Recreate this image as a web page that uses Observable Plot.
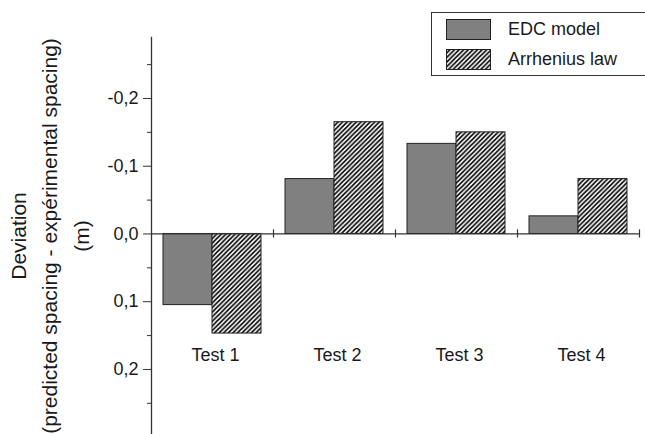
<!DOCTYPE html>
<html>
<head>
<meta charset="utf-8">
<script src="https://cdn.jsdelivr.net/npm/d3@7"></script>
<script src="https://cdn.jsdelivr.net/npm/@observablehq/plot@0.6"></script>
<style>
  body { margin: 0; background: #fff; }
  #wrap { position: relative; width: 645px; height: 434px; overflow: hidden; font-family: "Liberation Sans", Arial, sans-serif; }
  #legend { position: absolute; left: 431px; top: 12px; width: 230px; height: 64px; border: 1px solid #333; background: #fff; box-sizing: border-box; }
  .lg-item { position: absolute; left: 14px; display: flex; align-items: center; font-size: 18px; color: #1a1a1a; }
  .lg-item svg { margin-right: 17px; }
</style>
</head>
<body>
<div id="wrap"></div>
<script>
const tests = ["Test 1", "Test 2", "Test 3", "Test 4"];
const edcModel = [0.105, -0.081, -0.133, -0.026];
const arrheniusLaw = [0.147, -0.165, -0.150, -0.081];
const seriesNames = ["EDC model", "Arrhenius law"];
const majorTicks = [-0.2, -0.1, 0, 0.1, 0.2];
const minorTicks = [-0.25, -0.15, -0.05, 0.05, 0.15, 0.25];
const yLabel = "Deviation\n(predicted spacing - expérimental spacing)\n(m)";

const data = tests.map((t, i) => ({test: t, edc: edcModel[i], arr: arrheniusLaw[i]}));
const fmt = d => d.toFixed(1).replace(".", ",");
const axisColor = "#333";
const textColor = "#1a1a1a";

const chart = Plot.plot({
  width: 645,
  height: 434,
  marginLeft: 151,
  marginRight: 6,
  marginTop: 37,
  marginBottom: 0,
  style: {fontFamily: "'Liberation Sans', Arial, sans-serif", color: textColor, background: "#fff", overflow: "visible"},
  x: {type: "band", domain: tests, padding: 0, axis: null},
  y: {domain: [-0.29, 0.296], reverse: true, axis: null},
  marks: [
    Plot.barY(data, {x: "test", y: "edc", fill: "#808080", stroke: "#222", strokeWidth: 1, insetLeft: 12, insetRight: 61}),
    Plot.barY(data, {x: "test", y: "arr", fill: "url(#hatch)", stroke: "#222", strokeWidth: 1, insetLeft: 61, insetRight: 12}),
    Plot.ruleY([0], {stroke: axisColor, strokeWidth: 1.2}),
    Plot.ruleX(tests, {x: d => d, dx: 61, y1: -0.006, y2: 0.006, stroke: axisColor, strokeWidth: 1.2}),
    Plot.frame({anchor: "left", stroke: axisColor, strokeWidth: 1.3}),
    Plot.axisY(majorTicks, {tickSize: 8, tickPadding: 5, tickFormat: fmt, label: null, fontSize: 18, stroke: axisColor, fill: textColor}),
    Plot.axisY(minorTicks, {tickSize: 4, text: null, label: null, stroke: axisColor}),
    Plot.text(tests, {x: d => d, y: 0.1795, dx: 3, fontSize: 18, fill: textColor}),
    Plot.text([yLabel], {frameAnchor: "left", dx: -104, rotate: -90, fontSize: 21, lineHeight: 1.48, fill: textColor, textAnchor: "middle"})
  ]
});

// hatch pattern definition
const hatchPath = `<rect width="4.6" height="4.6" fill="#fff"/><path d="M-1.15,1.15 L1.15,-1.15 M0,4.6 L4.6,0 M3.45,5.75 L5.75,3.45" stroke="#000" stroke-width="1.6"/>`;
const ns = "http://www.w3.org/2000/svg";
const defs = document.createElementNS(ns, "defs");
defs.innerHTML = `<pattern id="hatch" patternUnits="userSpaceOnUse" width="4.6" height="4.6">${hatchPath}</pattern>`;
chart.insertBefore(defs, chart.firstChild);

const wrap = document.getElementById("wrap");
wrap.appendChild(chart);

// legend
const legend = document.createElement("div");
legend.id = "legend";
const swatches = [
  `<svg width="45" height="21"><rect x="0.5" y="0.5" width="44" height="20" fill="#808080" stroke="#222"/></svg>`,
  `<svg width="45" height="21"><defs><pattern id="hatchL" patternUnits="userSpaceOnUse" width="4.6" height="4.6">${hatchPath}</pattern></defs><rect x="0.5" y="0.5" width="44" height="20" fill="url(#hatchL)" stroke="#222"/></svg>`
];
seriesNames.forEach((name, i) => {
  const item = document.createElement("div");
  item.className = "lg-item";
  item.style.top = (6 + i * 30) + "px";
  item.innerHTML = swatches[i] + `<span>${name}</span>`;
  legend.appendChild(item);
});
wrap.appendChild(legend);
</script>
</body>
</html>
